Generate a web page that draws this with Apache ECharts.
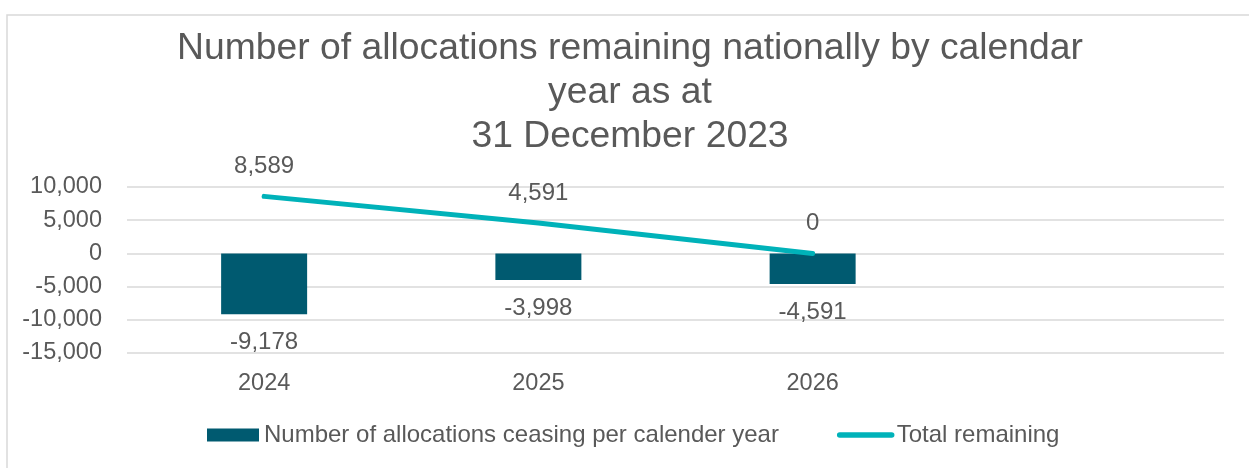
<!DOCTYPE html>
<html>
<head>
<meta charset="utf-8">
<script src="https://cdn.jsdelivr.net/npm/echarts@6/dist/echarts.min.js"></script>
<style>
  html, body { margin: 0; padding: 0; background: #ffffff; }
  #chart { width: 1249px; height: 468px; }
</style>
</head>
<body>
<div id="chart"></div>
<script>
const categories = ['2024', '2025', '2026', ''];
const ceasingPerYear = [-9178, -3998, -4591];
const totalRemaining = [8589, 4591, 0];
const yMin = -15000;
const yMax = 10000;
const yInterval = 5000;
const titleText = 'Number of allocations remaining nationally by calendar\nyear as at\n31 December 2023';
const seriesNames = ['Number of allocations ceasing per calender year', 'Total remaining'];

const FONT = '"Liberation Sans", Arial, sans-serif';
const TEXT = '#595959';
const BAR = '#005a70';
const LINE = '#00b2b9';
const fmt = v => Number(v).toLocaleString('en-US');

const chart = echarts.init(document.getElementById('chart'));
chart.setOption({
  backgroundColor: '#ffffff',
  animation: false,
  textStyle: { fontFamily: FONT },
  graphic: [{
    type: 'rect',
    shape: { x: 7, y: 15, width: 1400, height: 600 },
    style: { fill: 'none', stroke: '#d9d9d9', lineWidth: 1.5 },
    silent: true,
    z: -10
  }],
  title: {
    text: titleText,
    left: 630,
    top: 27,
    padding: 0,
    textAlign: 'center',
    textStyle: {
      fontFamily: FONT,
      fontSize: 37.3,
      fontWeight: 'normal',
      color: TEXT,
      lineHeight: 44
    }
  },
  legend: {
    left: 207,
    top: 423,
    padding: 0,
    itemWidth: 52,
    itemHeight: 13,
    itemGap: 58,
    textStyle: { fontFamily: FONT, fontSize: 24, color: TEXT },
    data: [
      { name: seriesNames[0], icon: 'rect' },
      { name: seriesNames[1], itemStyle: { opacity: 0 }, lineStyle: { width: 5.5, cap: 'round' } }
    ]
  },
  grid: { left: 127, right: 25, top: 187, bottom: 115 },
  xAxis: {
    type: 'category',
    data: categories,
    boundaryGap: true,
    axisLine: { show: false },
    axisTick: { show: false },
    axisLabel: { fontFamily: FONT, fontSize: 23.5, color: TEXT, margin: 19 }
  },
  yAxis: {
    type: 'value',
    min: yMin,
    max: yMax,
    interval: yInterval,
    axisLine: { show: false },
    axisTick: { show: false },
    axisLabel: { fontFamily: FONT, fontSize: 23.5, color: TEXT, margin: 25, formatter: fmt, padding: [3, 0, 0, 0] },
    splitLine: { lineStyle: { color: '#d9d9d9', width: 1.5 } }
  },
  series: [
    {
      name: seriesNames[0],
      type: 'bar',
      data: ceasingPerYear,
      barWidth: 86,
      itemStyle: { color: BAR },
      label: {
        show: true,
        position: 'bottom',
        distance: 16,
        fontFamily: FONT,
        fontSize: 24,
        color: TEXT,
        formatter: p => fmt(p.value)
      },
      z: 2
    },
    {
      name: seriesNames[1],
      type: 'line',
      data: totalRemaining,
      symbol: 'circle',
      symbolSize: 1,
      showSymbol: true,
      itemStyle: { color: LINE },
      lineStyle: { color: LINE, width: 5, cap: 'round' },
      label: {
        show: true,
        position: 'top',
        distance: 17.5,
        fontFamily: FONT,
        fontSize: 24,
        color: TEXT,
        formatter: p => fmt(p.value)
      },
      z: 3
    }
  ]
});
</script>
</body>
</html>
